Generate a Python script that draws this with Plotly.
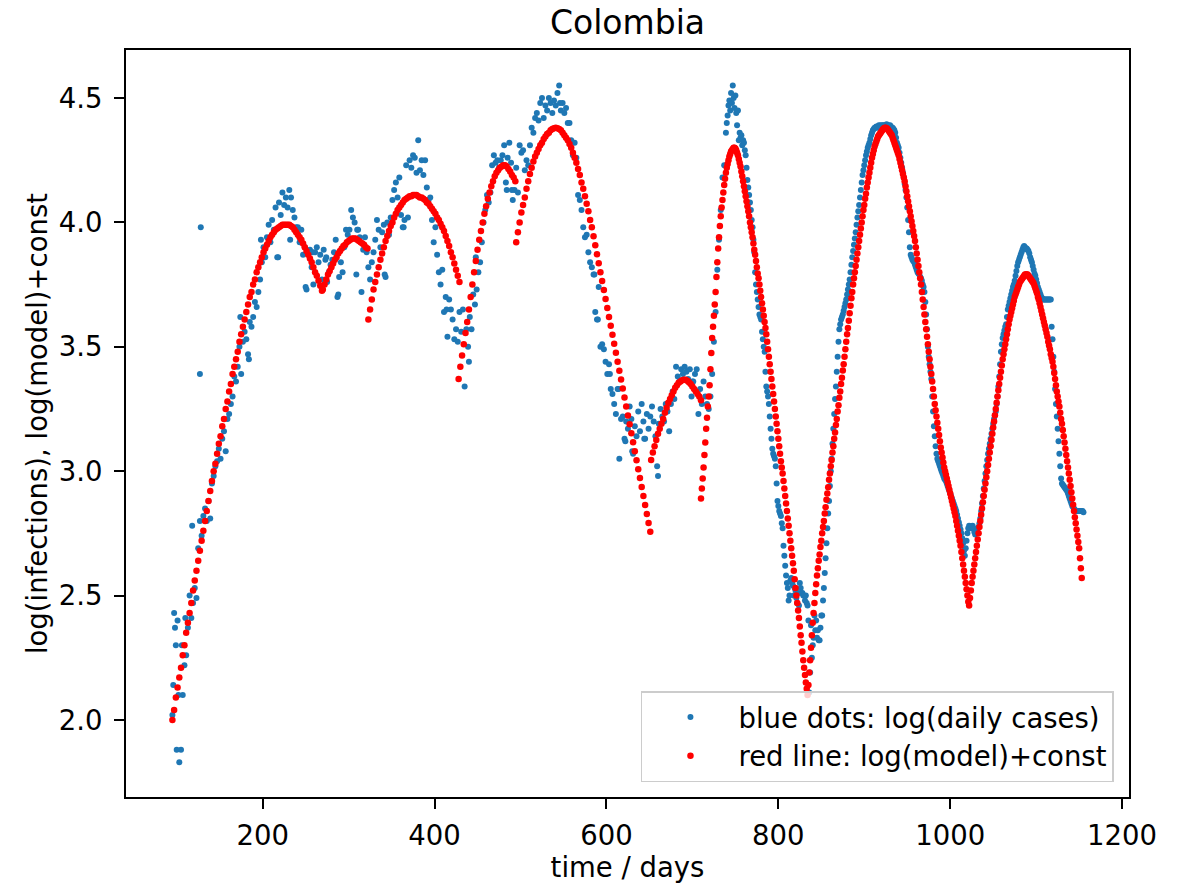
import plotly.graph_objects as go

# ---------------- data ----------------
# blue dots, days 95..739 every 2 days
blue_a = [
    2.02, 2.43, 2.30, 2.40, 1.83, 1.88, 2.10, 2.22, 2.26, 2.37,   # 95
    2.50, 2.41, 2.47, 2.53, 2.49, 2.69, 2.80, 2.74, 2.82, 2.85,   # 115
    2.80, 2.88, 2.81, 2.95, 2.98, 3.02, 3.04, 3.09, 3.05, 3.13,   # 135
    3.16, 3.08, 3.21, 3.23, 3.27, 3.30, 3.38, 3.36, 3.42, 3.50,   # 155
    3.39, 3.52, 3.56, 3.53, 3.47, 3.60, 3.58, 3.62, 3.68, 3.66,   # 175
    3.72, 3.77, 3.84, 3.90, 3.86, 3.94, 3.99, 3.92, 4.01, 3.97,   # 195
    4.06, 3.86, 4.08, 4.03, 4.12, 4.07, 4.10, 4.06, 4.13, 4.10,   # 215
    4.05, 4.02, 3.98, 3.98, 3.92, 3.97, 3.87, 3.90, 3.73, 3.88,   # 235
    3.89, 3.82, 3.75, 3.88, 3.90, 3.84, 3.87, 3.77, 3.89, 3.85,   # 255
    3.76, 3.80, 3.83, 3.85, 3.88, 3.93, 3.70, 3.78, 3.84, 3.80,   # 275
    3.90, 3.97, 3.95, 3.97, 4.05, 4.02, 4.00, 3.79, 3.97, 3.94,   # 295
    3.72, 3.89, 3.94, 3.88, 3.82, 3.77, 3.84, 3.88, 3.93, 4.01,   # 315
    3.97, 3.90, 3.96, 3.99, 3.78, 4.00, 3.95, 4.02, 4.09, 4.13,   # 335
    4.16, 4.10, 4.18, 4.03, 3.98, 4.01, 4.23, 4.02, 4.25, 4.22,   # 355
    4.27, 4.26, 4.20, 4.33, 4.21, 4.25, 4.19, 4.25, 4.14, 4.09,   # 375
    4.10, 4.01, 3.92, 3.98, 3.87, 3.80, 3.75, 3.81, 3.64, 3.70,   # 395
    3.54, 3.69, 3.65, 3.61, 3.53, 3.57, 3.52, 3.64, 3.56, 3.65,   # 415
    3.34, 3.57, 3.50, 3.62, 3.57, 3.71, 3.67, 3.73, 3.80, 3.84,   # 435
    3.92, 4.00, 4.05, 4.11, 4.08, 4.12, 4.23, 4.27, 4.24, 4.25,   # 455
    4.22, 4.25, 4.27, 4.31, 4.16, 4.26, 4.32, 4.24, 4.09, 4.13,   # 475
    4.22, 4.12, 4.31, 4.28, 4.29, 4.21, 4.25, 4.23, 4.31, 4.38,   # 495
    4.36, 4.42, 4.44, 4.41, 4.48, 4.50, 4.42, 4.47, 4.45, 4.50,   # 515
    4.48, 4.44, 4.49, 4.47, 4.52, 4.55, 4.45, 4.48, 4.44, 4.46,   # 535
    4.40, 4.40, 4.33, 4.27, 4.32, 4.26, 4.11, 4.09, 4.05, 3.98,   # 555
    3.94, 3.95, 3.88, 3.84, 3.82, 3.79, 3.64, 3.61, 3.74, 3.50,   # 575
    3.51, 3.49, 3.44, 3.39, 3.43, 3.33, 3.31, 3.27, 3.23, 3.33,   # 595
    3.05, 3.21, 3.22, 3.13, 3.20, 3.17, 3.26, 3.21, 3.07, 3.18,   # 615
    3.14, 3.24, 3.16, 3.27, 3.20, 3.13, 3.23, 3.17, 3.22, 3.26,   # 635
    3.20, 3.14, 3.02, 3.19, 3.25, 3.22, 3.20, 3.27, 3.24, 3.16,   # 655
    3.27, 3.32, 3.29, 3.42, 3.38, 3.36, 3.41, 3.39, 3.42, 3.40,   # 675
    3.37, 3.41, 3.30, 3.36, 3.39, 3.41, 3.23, 3.33, 3.27, 3.36,   # 695
    3.30, 3.27, 3.25, 3.30, 3.39, 3.52, 3.64, 3.81, 3.93, 4.05,   # 715
    4.18, 4.23, 4.36,                                             # 735
]
# blue dots, days 740..1155 every day
blue_b = [
    4.40, 4.43, 4.47, 4.49, 4.45, 4.52, 4.48, 4.55, 4.50, 4.46,   # 740
    4.51, 4.44, 4.39, 4.45, 4.33, 4.36, 4.34, 4.35, 4.31, 4.33,   # 750
    4.32, 4.29, 4.27, 4.22, 4.17, 4.14, 4.11, 4.08, 4.05, 4.01,   # 760
    3.98, 3.93, 3.88, 3.80, 3.75, 3.72, 3.69, 3.66, 3.63, 3.62,   # 770
    3.61, 3.56, 3.53, 3.50, 3.48, 3.40, 3.34, 3.32, 3.30, 3.27,   # 780
    3.22, 3.17, 3.13, 3.09, 3.07, 3.06, 3.05, 3.02, 2.95, 2.88,   # 790
    2.86, 2.84, 2.83, 2.82, 2.79, 2.77, 2.70, 2.66, 2.62, 2.58,   # 800
    2.55, 2.53, 2.48, 2.50, 2.56, 2.57, 2.55, 2.54, 2.50, 2.53,   # 810
    2.52, 2.49, 2.47, 2.51, 2.46, 2.55, 2.53, 2.51, 2.51, 2.50,   # 820
    2.50, 2.48, 2.50, 2.47, 2.46, 2.40, 2.11, 2.19, 2.38, 2.25,   # 830
    2.30, 2.33, 2.42, 2.36, 2.40, 2.33, 2.36, 2.32, 2.32, 2.37,   # 840
    2.42, 2.42, 2.48, 2.53, 2.59, 2.65, 2.71, 2.77, 2.83, 2.88,   # 850
    2.94, 3.00, 3.05, 3.11, 3.17, 3.23, 3.29, 3.34, 3.40, 3.46,   # 860
    3.52, 3.57, 3.59, 3.61, 3.62, 3.63, 3.645, 3.66, 3.675, 3.69, # 870
    3.71, 3.73, 3.75, 3.77, 3.80, 3.83, 3.86, 3.885, 3.91, 3.935, # 880
    3.96, 3.99, 4.02, 4.045, 4.07, 4.10, 4.13, 4.16, 4.19, 4.21,  # 890
    4.23, 4.25, 4.27, 4.285, 4.30, 4.31, 4.32, 4.335, 4.35, 4.36, # 900
    4.37, 4.375, 4.38, 4.38, 4.385, 4.38, 4.385, 4.39, 4.385, 4.39,   # 910
    4.385, 4.39, 4.39, 4.385, 4.39, 4.39, 4.395, 4.39, 4.39, 4.385,   # 920
    4.39, 4.385, 4.38, 4.38, 4.375, 4.37, 4.36, 4.34, 4.32, 4.31,     # 930
    4.30, 4.28, 4.26, 4.24, 4.22, 4.20, 4.18, 4.155, 4.13, 4.10,      # 940
    4.06, 4.01, 3.96, 3.90, 3.87, 3.86, 3.85, 3.845, 3.84, 3.83,      # 950
    3.82, 3.81, 3.80, 3.795, 3.79, 3.78, 3.775, 3.765, 3.75, 3.74,    # 960
    3.72, 3.68, 3.63, 3.57, 3.50, 3.46, 3.43, 3.40, 3.37, 3.30,       # 970
    3.24, 3.18, 3.14, 3.10, 3.07, 3.05, 3.04, 3.03, 3.02, 3.01,       # 980
    3.00, 2.99, 2.98, 2.97, 2.965, 2.96, 2.95, 2.94, 2.93, 2.92,      # 990
    2.91, 2.90, 2.89, 2.88, 2.87, 2.86, 2.85, 2.84, 2.825, 2.81,      # 1000
    2.795, 2.78, 2.765, 2.75, 2.73, 2.71, 2.68, 2.66, 2.69, 2.72,     # 1010
    2.75, 2.77, 2.78, 2.775, 2.77, 2.775, 2.78, 2.77, 2.755, 2.745,   # 1020
    2.75, 2.76, 2.77, 2.775, 2.79, 2.81, 2.84, 2.87, 2.90, 2.93,      # 1030
    2.96, 2.99, 3.02, 3.045, 3.07, 3.09, 3.11, 3.13, 3.15, 3.17,      # 1040
    3.19, 3.21, 3.225, 3.24, 3.27, 3.30, 3.34, 3.38, 3.43, 3.48,      # 1050
    3.51, 3.535, 3.55, 3.565, 3.58, 3.59, 3.62, 3.65, 3.665, 3.68,    # 1060
    3.695, 3.71, 3.725, 3.74, 3.75, 3.765, 3.785, 3.805, 3.825, 3.84, # 1070
    3.85, 3.86, 3.87, 3.88, 3.89, 3.90, 3.905, 3.90, 3.895, 3.895,    # 1080
    3.89, 3.885, 3.875, 3.86, 3.85, 3.84, 3.825, 3.81, 3.795, 3.785,  # 1090
    3.77, 3.755, 3.74, 3.73, 3.72, 3.71, 3.70, 3.695, 3.69, 3.69,     # 1100
    3.69, 3.69, 3.69, 3.69, 3.69, 3.69, 3.69, 3.69, 3.58, 3.53,       # 1110
    3.46, 3.40, 3.33, 3.27, 3.22, 3.17, 3.12, 3.07, 3.02, 2.97,       # 1120
    2.95, 2.945, 2.94, 2.935, 2.93, 2.925, 2.92, 2.91, 2.90, 2.89,    # 1130
    2.88, 2.87, 2.86, 2.855, 2.85, 2.845, 2.84, 2.84, 2.84, 2.84,     # 1140
    2.84, 2.84, 2.84, 2.84, 2.84, 2.835,                              # 1150
]
# additional scattered daily points (same-day duplicates / outliers)
blue_extra_days = [96, 98, 100, 102, 106, 110, 118, 127, 128, 174, 184, 198,
                   218, 232, 250, 258, 274, 288, 310, 342, 364, 414, 440, 448,
                   484, 490, 546, 586, 590, 604, 614, 622, 630, 644, 660, 700]
blue_extra_vals = [2.14, 2.37, 1.88, 2.10, 2.30, 2.41, 2.78, 3.39, 3.98, 3.62, 3.45, 3.93,
                   3.86, 3.93, 3.74, 3.88, 3.86, 3.71, 3.97, 3.79, 3.98, 3.65, 3.44, 3.86,
                   4.13, 4.13, 4.48, 3.79, 3.61, 3.39, 3.33, 3.12, 3.08, 3.13, 2.98, 3.36]

# red model dots, by fitted segment
red_seg1 = [  # days 95..269, every 2
    2.00, 2.04, 2.09, 2.13, 2.17, 2.21, 2.26, 2.30, 2.35, 2.39,
    2.43, 2.47, 2.52, 2.56, 2.60, 2.64, 2.68, 2.72, 2.76, 2.80,
    2.84, 2.88, 2.92, 2.96, 3.00, 3.03, 3.07, 3.11, 3.14, 3.18,
    3.21, 3.25, 3.28, 3.32, 3.35, 3.39, 3.42, 3.45, 3.48, 3.52,
    3.55, 3.58, 3.61, 3.64, 3.67, 3.70, 3.72, 3.75, 3.77, 3.80,
    3.82, 3.84, 3.86, 3.88, 3.895, 3.91, 3.925, 3.94, 3.95, 3.96,
    3.97, 3.975, 3.98, 3.985, 3.99, 3.99, 3.99, 3.99, 3.99, 3.985,
    3.98, 3.97, 3.96, 3.95, 3.94, 3.93, 3.915, 3.90, 3.885, 3.87,
    3.855, 3.84, 3.82, 3.80, 3.785, 3.765, 3.745, 3.725,
]
red_seg2 = [  # days 270..322, every 2
    3.73, 3.75, 3.77, 3.79, 3.805, 3.82, 3.835, 3.85, 3.86, 3.875,
    3.885, 3.895, 3.905, 3.91, 3.92, 3.925, 3.93, 3.935, 3.935, 3.935,
    3.93, 3.925, 3.92, 3.915, 3.91, 3.90, 3.895,
]
red_seg3 = [  # days 323..429, every 2
    3.61, 3.65, 3.69, 3.73, 3.76, 3.79, 3.82, 3.85, 3.875, 3.90,
    3.925, 3.945, 3.965, 3.985, 4.00, 4.02, 4.035, 4.05, 4.06, 4.07,
    4.08, 4.09, 4.095, 4.10, 4.105, 4.105, 4.11, 4.11, 4.11, 4.105,
    4.10, 4.10, 4.095, 4.09, 4.08, 4.075, 4.065, 4.055, 4.045, 4.035,
    4.02, 4.01, 3.995, 3.98, 3.965, 3.945, 3.925, 3.905, 3.88, 3.86,
    3.835, 3.81, 3.785, 3.76,
]
red_seg4 = [  # days 428..494, every 2
    3.37, 3.42, 3.465, 3.51, 3.555, 3.60, 3.65, 3.70, 3.75, 3.80,
    3.845, 3.89, 3.93, 3.965, 4.00, 4.035, 4.065, 4.095, 4.12, 4.145,
    4.165, 4.185, 4.20, 4.21, 4.22, 4.225, 4.23, 4.23, 4.225, 4.215,
    4.205, 4.19, 4.18, 4.165,
]
red_seg5 = [  # days 495..651, every 2
    3.92, 3.96, 4.00, 4.04, 4.07, 4.10, 4.135, 4.165, 4.195, 4.22,
    4.245, 4.265, 4.28, 4.295, 4.31, 4.32, 4.335, 4.345, 4.355, 4.36,
    4.37, 4.375, 4.378, 4.38, 4.378, 4.375, 4.37, 4.36, 4.35, 4.34,
    4.33, 4.315, 4.30, 4.28, 4.26, 4.24, 4.215, 4.19, 4.16, 4.135,
    4.105, 4.075, 4.045, 4.01, 3.98, 3.944, 3.908, 3.872, 3.836, 3.80,
    3.764, 3.728, 3.692, 3.656, 3.62, 3.584, 3.548, 3.512, 3.476, 3.44,
    3.404, 3.368, 3.332, 3.296, 3.26, 3.224, 3.188, 3.152, 3.116, 3.08,
    3.044, 3.008, 2.972, 2.936, 2.90, 2.864, 2.828, 2.792, 2.756,
]
red_seg6 = [  # days 652..710, every 2
    3.045, 3.075, 3.10, 3.125, 3.15, 3.17, 3.19, 3.21, 3.235, 3.255,
    3.275, 3.29, 3.305, 3.32, 3.335, 3.345, 3.355, 3.36, 3.365, 3.367,
    3.367, 3.363, 3.357, 3.35, 3.34, 3.33, 3.32, 3.31, 3.30, 3.285,
]
red_seg7 = [  # days 710..1153, every day
    2.89, 2.93, 2.97, 3.015, 3.065, 3.115, 3.17, 3.215, 3.26, 3.30,        # 710
    3.345, 3.41, 3.475, 3.535, 3.58, 3.625, 3.67, 3.72, 3.78, 3.84,        # 720
    3.895, 3.94, 3.985, 4.025, 4.06, 4.09, 4.12, 4.15, 4.175, 4.20,        # 730
    4.22, 4.235, 4.25, 4.265, 4.275, 4.285, 4.29, 4.295, 4.30, 4.30,       # 740
    4.297, 4.29, 4.28, 4.27, 4.255, 4.24, 4.225, 4.205, 4.185, 4.165,      # 750
    4.145, 4.125, 4.105, 4.085, 4.065, 4.045, 4.025, 4.00, 3.98, 3.96,     # 760
    3.94, 3.915, 3.89, 3.87, 3.845, 3.82, 3.795, 3.775, 3.75, 3.725,       # 770
    3.70, 3.675, 3.65, 3.625, 3.60, 3.575, 3.55, 3.52, 3.49, 3.46,         # 780
    3.43, 3.40, 3.37, 3.34, 3.31, 3.28, 3.25, 3.22, 3.19, 3.16,            # 790
    3.13, 3.10, 3.07, 3.04, 3.015, 2.99, 2.96, 2.93, 2.90, 2.87,           # 800
    2.84, 2.81, 2.78, 2.75, 2.72, 2.69, 2.66, 2.63, 2.60, 2.565,           # 810
    2.53, 2.50, 2.47, 2.44, 2.41, 2.375, 2.34, 2.31, 2.275, 2.24,          # 820
    2.21, 2.18, 2.15, 2.125, 2.10, 2.14, 2.19, 2.24, 2.29, 2.34,           # 830
    2.39, 2.43, 2.47, 2.51, 2.545, 2.58, 2.61, 2.64, 2.665, 2.695,         # 840
    2.72, 2.75, 2.775, 2.80, 2.83, 2.855, 2.885, 2.91, 2.935, 2.965,       # 850
    2.99, 3.02, 3.045, 3.075, 3.10, 3.13, 3.155, 3.185, 3.21, 3.24,        # 860
    3.265, 3.295, 3.32, 3.35, 3.375, 3.405, 3.43, 3.46, 3.49, 3.52,        # 870
    3.55, 3.575, 3.605, 3.635, 3.665, 3.695, 3.72, 3.75, 3.775, 3.80,      # 880
    3.825, 3.85, 3.875, 3.90, 3.925, 3.95, 3.975, 4.00, 4.025, 4.05,       # 890
    4.07, 4.095, 4.115, 4.14, 4.16, 4.18, 4.20, 4.22, 4.24, 4.26,          # 900
    4.275, 4.29, 4.305, 4.315, 4.325, 4.335, 4.345, 4.35, 4.355, 4.36,     # 910
    4.365, 4.37, 4.375, 4.378, 4.38, 4.38, 4.378, 4.375, 4.37, 4.365,      # 920
    4.36, 4.355, 4.35, 4.34, 4.33, 4.32, 4.31, 4.30, 4.29, 4.28,           # 930
    4.27, 4.255, 4.24, 4.225, 4.21, 4.195, 4.18, 4.165, 4.145, 4.125,      # 940
    4.105, 4.085, 4.065, 4.045, 4.025, 4.005, 3.985, 3.965, 3.945, 3.925,  # 950
    3.90, 3.875, 3.85, 3.825, 3.80, 3.775, 3.75, 3.72, 3.69, 3.66,         # 960
    3.63, 3.60, 3.57, 3.54, 3.51, 3.48, 3.45, 3.42, 3.39, 3.36,            # 970
    3.33, 3.30, 3.27, 3.245, 3.22, 3.195, 3.17, 3.145, 3.12, 3.095,        # 980
    3.075, 3.055, 3.035, 3.015, 3.00, 2.985, 2.97, 2.955, 2.94, 2.925,     # 990
    2.91, 2.895, 2.88, 2.865, 2.85, 2.835, 2.82, 2.80, 2.78, 2.76,         # 1000
    2.74, 2.72, 2.70, 2.675, 2.65, 2.625, 2.60, 2.575, 2.55, 2.525,        # 1010
    2.50, 2.475, 2.46, 2.49, 2.52, 2.55, 2.575, 2.60, 2.625, 2.65,         # 1020
    2.675, 2.70, 2.725, 2.75, 2.775, 2.80, 2.825, 2.85, 2.875, 2.90,       # 1030
    2.925, 2.95, 2.975, 3.00, 3.025, 3.05, 3.075, 3.10, 3.125, 3.15,       # 1040
    3.175, 3.20, 3.225, 3.25, 3.275, 3.30, 3.325, 3.35, 3.375, 3.40,       # 1050
    3.425, 3.45, 3.47, 3.49, 3.51, 3.53, 3.55, 3.57, 3.59, 3.61,           # 1060
    3.625, 3.64, 3.655, 3.67, 3.685, 3.70, 3.71, 3.72, 3.73, 3.74,         # 1070
    3.75, 3.76, 3.765, 3.77, 3.775, 3.78, 3.785, 3.79, 3.79, 3.79,         # 1080
    3.79, 3.785, 3.78, 3.775, 3.77, 3.765, 3.76, 3.755, 3.745, 3.735,      # 1090
    3.725, 3.715, 3.70, 3.69, 3.675, 3.66, 3.645, 3.63, 3.615, 3.60,       # 1100
    3.585, 3.57, 3.555, 3.54, 3.52, 3.505, 3.49, 3.47, 3.455, 3.44,        # 1110
    3.42, 3.395, 3.37, 3.345, 3.32, 3.30, 3.28, 3.26, 3.235, 3.21,         # 1120
    3.19, 3.165, 3.14, 3.115, 3.09, 3.065, 3.04, 3.015, 2.99, 2.965,       # 1130
    2.94, 2.915, 2.89, 2.865, 2.84, 2.815, 2.79, 2.765, 2.74, 2.715,       # 1140
    2.69, 2.65, 2.61, 2.57,                                                # 1150
]
red_segments = [(95, 2, red_seg1), (270, 2, red_seg2), (323, 2, red_seg3),
                (428, 2, red_seg4), (495, 2, red_seg5), (652, 2, red_seg6),
                (710, 1, red_seg7)]

x_ticks = [200, 400, 600, 800, 1000, 1200]
y_ticks = [2.0, 2.5, 3.0, 3.5, 4.0, 4.5]

# ---------------- build ----------------
blue_x = [95 + 2 * i for i in range(len(blue_a))] + [740 + i for i in range(len(blue_b))] + blue_extra_days
blue_y = blue_a + blue_b + blue_extra_vals

red_x, red_y = [], []
for start, step, vals in red_segments:
    red_x += [start + step * i for i in range(len(vals))]
    red_y += vals

FONT = "DejaVu Sans"
FS = 27.5

fig = go.Figure()
fig.add_trace(go.Scatter(x=blue_x, y=blue_y, mode="markers",
                         marker=dict(color="#1f77b4", size=6, line=dict(width=0)),
                         name="blue dots: log(daily cases)"))
fig.add_trace(go.Scatter(x=red_x, y=red_y, mode="markers",
                         marker=dict(color="#ff0000", size=6.5, line=dict(width=0)),
                         name="red line: log(model)+const"))

axis_common = dict(showline=True, linewidth=2, linecolor="black", mirror=True,
                   ticks="outside", ticklen=10, tickwidth=2, tickcolor="black",
                   showgrid=False, zeroline=False,
                   tickfont=dict(family=FONT, size=FS, color="black"))

fig.update_layout(
    width=1189, height=887, template="none",
    paper_bgcolor="white", plot_bgcolor="white",
    margin=dict(l=126, r=60, t=50, b=90, pad=0),
    font=dict(family=FONT, size=FS, color="black"),
    title=dict(text="Colombia", x=0.5, xref="paper", xanchor="center",
               y=1 - 22 / 887, yref="container", yanchor="middle",
               font=dict(family=FONT, size=33, color="black")),
    xaxis=dict(range=[41, 1208], tickvals=x_ticks,
               title=dict(text="time / days", font=dict(family=FONT, size=FS), standoff=0),
               ticklabelstandoff=3, **axis_common),
    yaxis=dict(range=[1.69, 4.693], tickvals=y_ticks, tickformat=".1f",
               title=dict(text="log(infections), log(model)+const",
                          font=dict(family=FONT, size=FS), standoff=3),
               ticklabelstandoff=6, **axis_common),
    legend=dict(x=0.985, y=0.02, xanchor="right", yanchor="bottom",
                bgcolor="rgba(255,255,255,0.8)", bordercolor="#cccccc", borderwidth=1.5,
                font=dict(family=FONT, size=FS, color="black"), itemwidth=86),
    showlegend=True,
)

fig.write_html("out.html")
